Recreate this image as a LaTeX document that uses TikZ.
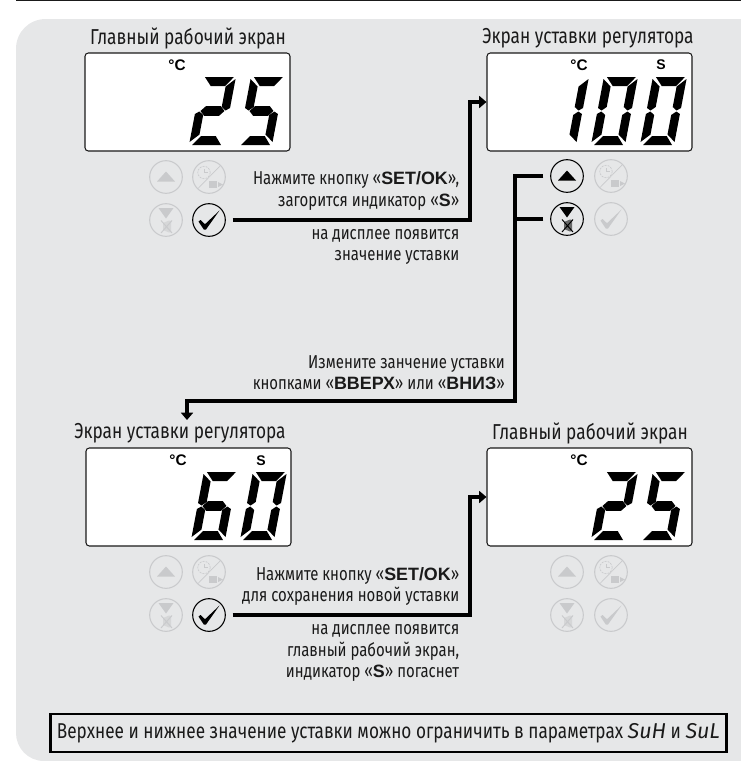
\documentclass[tikz,border=0pt]{standalone}
\usepackage{fontspec}
\usetikzlibrary{arrows.meta,calc}
\setmainfont{Fira Sans}
\newfontfamily\cond[FakeStretch=0.8]{Fira Sans}
\newfontfamily\lcdf{Liberation Sans}
\newcommand\bw[1]{{\lcdf\bfseries\fontsize{13.4}{15.8}\selectfont #1}}
\definecolor{panel}{HTML}{E6E7E8}
\definecolor{ink}{HTML}{1A1A1A}
\definecolor{off}{HTML}{C9CACC}
\newcommand\segA{\fill (3,-68)--(32,-68)--(25,-59)--(10.5,-59)--cycle;}
\newcommand\segB{\fill (34,-66)--(34,-37)--(30,-34.5)--(25.5,-38)--(25.5,-58.5)--cycle;}
\newcommand\segC{\fill (25.5,-30)--(30,-33.5)--(34,-31)--(34,-3)--(25.5,-10.5)--cycle;}
\newcommand\segD{\fill (10.5,-9)--(25,-9)--(32,0)--(3,0)--cycle;}
\newcommand\segE{\fill (0,-31)--(4,-33.5)--(8.5,-30)--(8.5,-10.5)--(0,-3)--cycle;}
\newcommand\segF{\fill (0,-66)--(8.5,-58.5)--(8.5,-38)--(4,-34.5)--(0,-37)--cycle;}
\newcommand\segG{\fill (5,-34)--(9.5,-38.8)--(24.5,-38.8)--(29,-34)--(24.5,-29.2)--(9.5,-29.2)--cycle;}
\newcommand\digit[3]{\begin{scope}[shift={(#1,#2)},xslant=0.19,fill=black]
\foreach \s in {#3}{\csname seg\s\endcsname}\end{scope}}
\newcommand\lcd[3]{% name, left, top
\node[lcdbox] (#1) at (#2+102.5,#3+49) {};
\node[lcdmark] at (#2+92,#3+12.5) {°C};}
\newcommand\upb[4]{\node[btnc,draw=#4] (#1) at (#2,#3) {};
\fill[#4] (#2-9,#3+4.5)--(#2+9,#3+4.5)--(#2,#3-5.5)--cycle;}
\newcommand\clockb[4]{\node[btnc,draw=#4] (#1) at (#2,#3) {};
\begin{scope}[shift={(#2,#3)},#4]
\draw[line width=.5pt] (-11,11.5)--(11.5,-11.5);
\draw[line width=.5pt,dash pattern=on 1.5pt off .8pt] (-5,-4.5) circle[radius=6.2];
\draw[line width=.5pt] (-5,-8)--(-5,-4.5)--(-1.5,-4.5);
\fill (0,4)rectangle(8,11);
\fill (9,5)--(14,7.5)--(9,10)--cycle;
\end{scope}}
\newcommand\downb[4]{\node[btnc,draw=#4] (#1) at (#2,#3) {};
\begin{scope}[shift={(#2,#3)},#4]
\fill (-7.5,-12)--(7.5,-12)--(0,-1.5)--cycle;
\fill[opacity=.55] (-3,3)--(3,0.5)--(5,1)--(5,12)--(3,12.5)--(-3,10)--cycle;
\draw[line width=.7pt] (-5,0.5)--(6,13) (6,0.5)--(-5,13);
\end{scope}}
\newcommand\okb[4]{\node[btnc,draw=#4] (#1) at (#2,#3) {};
\fill[#4,shift={(#2,#3)}] (-10.5,1.5)--(-8.5,0)--(-4,4.2)--(10.5,-9.5)--(-3,9.5)--(-5.2,9.5)--cycle;}
\tikzset{
 lcdbox/.style={draw=ink,fill=white,line width=.8pt,rounded corners=2.5pt,minimum width=153.75pt,minimum height=73.5pt,inner sep=0pt},
 lcdmark/.style={font=\lcdf\bfseries\fontsize{11.5}{11.5}\selectfont,inner sep=0pt},
 setmark/.style={font=\lcdf\bfseries\fontsize{10.5}{10.5}\selectfont,inner sep=0pt},
 btnc/.style={circle,line width=.8pt,minimum size=24.5pt,inner sep=0pt},
 title/.style={font=\cond\fontsize{16.2}{18}\selectfont,text=ink,inner sep=0pt},
 note/.style={font=\cond\fontsize{14}{15.8}\selectfont,text=ink,inner sep=0pt,align=right},
 conn/.style={draw=black,line width=2.7pt},
 arr/.style={conn,-{Triangle[length=5.5pt,width=9pt]}},
}
\begin{document}
\begin{tikzpicture}[x=0.75pt,y=-0.75pt]
\useasboundingbox (0,0) rectangle (741,761);
\fill[panel] (741,19)--(46,19) .. controls (29,19) and (16,32) .. (16,49)--(16,733) .. controls (16,748) and (28,761) .. (44,761)--(741,761)--cycle;
\draw[ink,line width=1.2pt] (16,0.4)--(741,0.4);
% titles
\node[title] (t1) at (188,38) {Главный рабочий экран};
\node[title] (t2) at (588,38) {Экран уставки регулятора};
\node[title] (t3) at (180,433) {Экран уставки регулятора};
\node[title] (t4) at (590,433) {Главный рабочий экран};
% displays
\lcd{lcd1}{85}{53}
\lcd{lcd2}{487}{53}
\lcd{lcd3}{86}{448}
\lcd{lcd4}{487}{448}
\node[setmark] (s2) at (661,65) {S};
\node[setmark] (s3) at (261,461) {S};
\digit{189}{145}{A,B,G,E,D}
\digit{238}{145}{A,F,G,C,D}
\digit{542}{145}{B,C}
\digit{591}{145}{A,B,C,D,E,F}
\digit{640}{145}{A,B,C,D,E,F}
\digit{191}{540}{A,F,G,E,C,D}
\digit{240}{540}{A,B,C,D,E,F}
\digit{591}{540}{A,B,G,E,D}
\digit{640}{540}{A,F,G,C,D}
% buttons
\upb{u1}{166}{177}{off}\clockb{k1}{209}{177}{off}\downb{d1}{166}{220}{off}\okb{o1}{209}{220}{black}
\upb{u2}{567}{176}{black}\clockb{k2}{611}{176}{off}\downb{d2}{567}{219}{black}\okb{o2}{611}{219}{off}
\upb{u3}{166}{572}{off}\clockb{k3}{209}{572}{off}\downb{d3}{166}{615}{off}\okb{o3}{209}{615}{black}
\upb{u4}{567}{572}{off}\clockb{k4}{611}{572}{off}\downb{d4}{567}{615}{off}\okb{o4}{611}{615}{off}
% connectors
\coordinate (c1) at (470,220);
\coordinate (c2a) at (515,176);
\coordinate (c2b) at (515,219);
\coordinate (c2c) at (515,401);
\coordinate (c2d) at (187,401);
\coordinate (c2e) at (187,420);
\coordinate (c3) at (470,615);
\draw[arr,shorten <=5pt] (o1.east)--(c1)|-(lcd2.west);
\draw[arr,shorten <=5pt] (u2.west)--(c2a)--(c2c)--(c2d)--(c2e);
\draw[conn,shorten <=5pt] (d2.west)--(c2b);
\draw[arr,shorten <=5pt] (o3.east)--(c3)|-(lcd4.west);
% texts
\node[note,anchor=east] (n1) at (459.5,191) {Нажмите кнопку «\bw{SET/OK}»,\\загорится индикатор «\bw{S}»};
\node[note,anchor=east] (n2) at (459.5,246.5) {на дисплее появится\\значение уставки};
\node[note,anchor=east] (n3) at (505,373) {Измените занчение уставки\\кнопками «\bw{ВВЕРХ}» или «\bw{ВНИЗ}»};
\node[note,anchor=east] (n4) at (459.5,586.5) {Нажмите кнопку «\bw{SET/OK}»\\для сохранения новой уставки};
\node[note,anchor=east] (n5) at (459.5,653) {на дисплее появится\\главный рабочий экран,\\индикатор «\bw{S}» погаснет};
\node[draw=black,line width=1.6pt,minimum width=507pt,minimum height=28pt,inner sep=0pt,font=\cond\fontsize{16.1}{18}\selectfont,text=ink] (box) at (388.5,733) {Верхнее и нижнее значение уставки можно ограничить в параметрах {\itshape\addfontfeature{FakeStretch=1.0}SuH} и {\itshape\addfontfeature{FakeStretch=1.0}SuL}};
\end{tikzpicture}
\end{document}
